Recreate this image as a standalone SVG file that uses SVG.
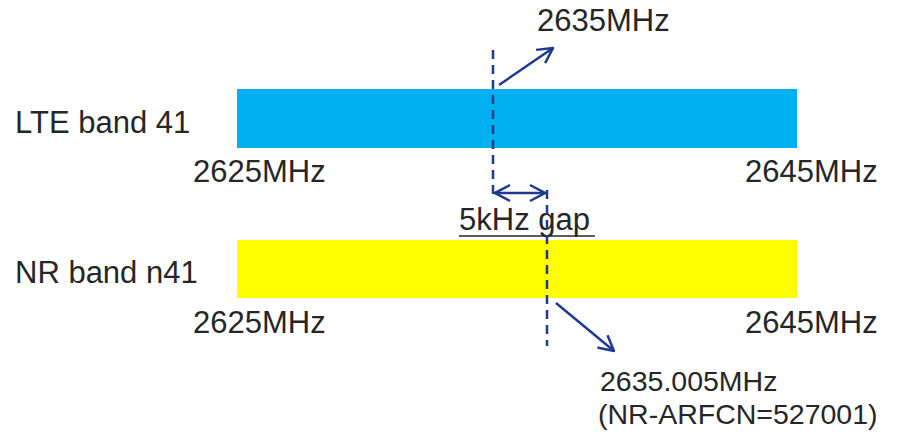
<svg xmlns="http://www.w3.org/2000/svg" width="916" height="440" viewBox="0 0 916 440">
<style>
text{font-family:"Liberation Sans",Arial,sans-serif;font-size:31px;fill:#262626}
.s{font-size:28.5px}
.c{stroke:#1F3A8F;stroke-width:2.5;fill:none}
.d{stroke:#1F3A8F;stroke-width:2.5;stroke-dasharray:9,6;fill:none}
</style>
<defs>
<marker id="b" viewBox="0 0 20 20" refX="19" refY="10" markerWidth="20" markerHeight="20" markerUnits="userSpaceOnUse" orient="auto-start-reverse">
<path d="M4,2 L19,10 L4,18" fill="none" stroke="#1F3A8F" stroke-width="2.5"/>
</marker>
</defs>
<rect width="916" height="440" fill="#fff"/>
<g id="lte">
<rect x="237" y="89" width="560" height="59" fill="#00B0F0"/>
<text x="15" y="133">LTE band 41</text>
<text x="193" y="182">2625MHz</text>
<text x="745" y="182">2645MHz</text>
</g>
<g id="nr">
<rect x="237" y="240" width="560" height="58" fill="#FFFF00"/>
<text x="15" y="283">NR band n41</text>
<text x="193" y="333">2625MHz</text>
<text x="745" y="333">2645MHz</text>
</g>
<g id="labels">
<text x="537" y="31">2635MHz</text>
<text x="459" y="230">5kHz gap</text>
<line x1="459" y1="236" x2="595" y2="236" stroke="#262626" stroke-width="1.5"/>
<text class="s" x="600" y="391">2635.005MHz</text>
<text class="s" x="598" y="424">(NR-ARFCN=527001)</text>
</g>
<g id="connectors">
<line class="d" x1="493" y1="50" x2="493" y2="200"/>
<line class="d" x1="547" y1="190" x2="547" y2="346"/>
<line class="c" x1="499" y1="85" x2="553" y2="48" marker-end="url(#b)"/>
<line class="c" x1="495" y1="193" x2="545" y2="193" marker-start="url(#b)" marker-end="url(#b)"/>
<line class="c" x1="556" y1="303" x2="614" y2="351" marker-end="url(#b)"/>
</g>
</svg>
